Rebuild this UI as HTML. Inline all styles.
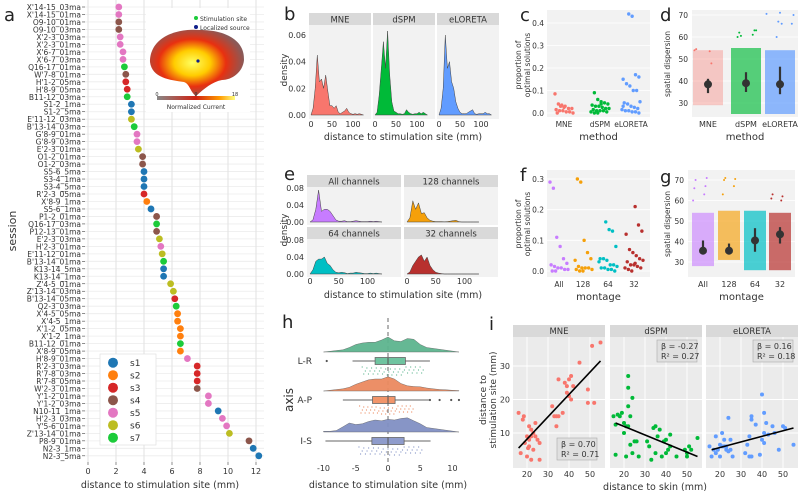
<!DOCTYPE html>
<html><head><meta charset="utf-8"><style>
html,body{margin:0;padding:0;background:#fff;}
svg{display:block;font-family:"DejaVu Sans","Liberation Sans",sans-serif;}
</style></head><body>
<svg id="fig" width="798" height="491" viewBox="0 0 798 491" xmlns="http://www.w3.org/2000/svg">
<defs>
<radialGradient id="brainGrad" cx="0.45" cy="0.5" r="0.55">
<stop offset="0" stop-color="#ffff60"/><stop offset="0.35" stop-color="#ffcc00"/><stop offset="0.65" stop-color="#e83010"/><stop offset="1" stop-color="#8a5a58"/>
</radialGradient>
<linearGradient id="cbar" x1="0" x2="1"><stop offset="0" stop-color="#888"/><stop offset="0.5" stop-color="#d02010"/><stop offset="0.8" stop-color="#ff9900"/><stop offset="1" stop-color="#ffff80"/></linearGradient>
</defs>
</svg>
<script>
// ---------- DATA ----------
const sessionLabels=["X'14-15_03ma","X'14-15_01ma","O9-10_01ma","O9-10_03ma","X'2-3_03ma","X'2-3_01ma","X'6-7_01ma","X'6-7_03ma","Q16-17_01ma","W'7-8_01ma","H'1-2_05ma","H'8-9_05ma","B11-12_03ma","S1-2_1ma","S1-2_5ma","E'11-12_03ma","B'13-14_03ma","G'8-9_01ma","G'8-9_03ma","E'2-3_01ma","O1-2_01ma","O1-2_03ma","S5-6_5ma","S3-4_1ma","S3-4_5ma","R'2-3_05ma","X'8-9_1ma","S5-6_1ma","P1-2_01ma","Q16-17_03ma","P12-13_01ma","E'2-3_03ma","H'2-3_01ma","E'11-12_01ma","B'13-14_01ma","K13-14_5ma","K13-14_1ma","Z'4-5_01ma","Z'13-14_03ma","B'13-14_05ma","Q2-3_03ma","X'4-5_05ma","X'4-5_1ma","X'1-2_05ma","X'1-2_1ma","B11-12_01ma","X'8-9_05ma","H'8-9_01ma","R'2-3_03ma","R'7-8_03ma","R'7-8_05ma","W'2-3_01ma","Y'1-2_01ma","Y'1-2_03ma","N10-11_1ma","H'2-3_03ma","Y'5-6_01ma","Z'13-14_01ma","P8-9_01ma","N2-3_1ma","N2-3_5ma"];
const sessionDist=[2.2,2.2,2.2,2.2,2.3,2.3,2.5,2.5,2.6,2.7,2.7,2.8,2.8,3.1,3.1,3.1,3.3,3.5,3.5,3.6,3.9,3.9,4.0,4.0,4.0,4.0,4.2,4.5,4.9,4.9,4.9,5.1,5.2,5.3,5.4,5.4,5.4,5.9,6.1,6.2,6.3,6.4,6.4,6.6,6.6,6.6,6.6,7.1,7.8,7.8,7.8,7.8,8.6,8.6,9.3,9.6,9.9,10.1,11.5,11.8,12.2];
const sessionSubj=[5,5,4,4,5,5,5,5,7,4,3,3,7,1,1,6,7,5,5,6,4,4,1,1,1,3,2,1,4,7,4,6,5,6,7,1,1,6,6,3,7,2,2,2,2,7,2,5,3,3,3,4,5,5,1,5,5,6,4,1,1];
const subjNames=["s1","s2","s3","s4","s5","s6","s7"];
const aTicks=[0,2,4,6,8,10,12];

const methods=["MNE","dSPM","eLORETA"];
const densMNE=[0,0.005,0.02,0.045,0.025,0.027,0.02,0.03,0.018,0.007,0.007,0.005,0.007,0.002,0.001,0.002,0.003,0.005,0.002,0.001,0.0005,0.001,0.0005,0.001,0.0005,0];
const densDSPM=[0,0.002,0.015,0.035,0.055,0.035,0.063,0.03,0.01,0.003,0.002,0.001,0.001,0.0005,0.001,0.004,0.002,0.001,0.0005,0.001,0.001,0.002,0.001,0.002,0.001,0];
const densELOR=[0,0.005,0.02,0.06,0.035,0.04,0.025,0.02,0.01,0.005,0.002,0.001,0.001,0.001,0.002,0.003,0.004,0.001,0.0005,0.001,0.001,0.001,0.002,0.001,0.001,0];
const densBinStep=5;
const bYTicks=[0,0.02,0.04,0.06];
const distXTicks=[0,50,100];

const montages=["All channels","128 channels","64 channels","32 channels"];
const densAll=[0,0.005,0.03,0.075,0.025,0.03,0.03,0.025,0.015,0.005,0.002,0.002,0.003,0.001,0.001,0.002,0.003,0.002,0.001,0.001,0.001,0.002,0.001,0.002,0.001,0];
const dens128=[0,0.01,0.05,0.03,0.045,0.02,0.022,0.01,0.004,0.002,0.001,0.001,0.001,0.0005,0.001,0.002,0.003,0.004,0.001,0,0,0,0,0,0,0];
const dens64=[0,0.01,0.03,0.035,0.035,0.04,0.025,0.02,0.01,0.004,0.003,0.004,0.003,0.001,0.002,0.002,0.004,0.003,0.002,0.001,0.001,0.002,0.001,0.002,0.001,0];
const dens32=[0,0.005,0.02,0.03,0.04,0.045,0.03,0.04,0.02,0.01,0.004,0.002,0.001,0,0,0,0,0,0,0,0,0,0,0,0,0];
const eYTicks=[0,0.04,0.08];

const propMNE=[0.085,0.04,0.035,0.03,0.02,0.02,0.015,0.01,0.01,0.005,0.005,0,0.0,0.03,0.025];
const propDSPM=[0.09,0.06,0.05,0.045,0.04,0.035,0.03,0.03,0.025,0.02,0.02,0.015,0.01,0.01,0.01,0.005,0.005,0,0,0.04];
const propELOR=[0.44,0.43,0.17,0.16,0.15,0.13,0.12,0.1,0.1,0.05,0.045,0.04,0.03,0.025,0.02,0.015,0.01,0.01,0.005,0.005,0,0.03];
const cYTicks=[0,0.1,0.2,0.3,0.4];

const montShort=["All","128","64","32"];
const propAll=[0.29,0.27,0.11,0.08,0.04,0.025,0.02,0.015,0.01,0.01,0.005,0.005,0,0];
const prop128=[0.3,0.29,0.1,0.06,0.04,0.035,0.015,0.01,0.01,0.01,0.005,0.005,0,0];
const prop64=[0.16,0.135,0.13,0.08,0.04,0.04,0.035,0.02,0.02,0.015,0.01,0.01,0.005,0.005,0,0.03];
const prop32=[0.21,0.15,0.13,0.12,0.07,0.06,0.05,0.04,0.035,0.03,0.02,0.02,0.015,0.01,0.01,0.005,0,0.025];
const fYTicks=[0,0.1,0.2,0.3];

const dispYTicks=[30,40,50,60,70];
const dMin=[29,25,25], dMax=[54,55,54], dMean=[38.5,39,38.5], dLo=[34.5,35,34], dHi=[41,44,46.5];
const dOutMNE=[54,53.5,54.5,48], dOutDSPM=[60,61,62,63,60.5,63], dOutELOR=[60,66,67,70,71,70.5,66];
const gMin=[28,31,26,26], gMax=[54,55,55,54], gMean=[35.5,35.5,40.5,43.5], gLo=[34,34,35,39], gHi=[40.5,39,46.5,47];
const gOutAll=[60,63,66,67,70,71], gOut128=[63,67,70,70.5,71], gOut64=[], gOut32=[60,61,62,63];

const axesNames=["L-R","A-P","I-S"];
const ridgeX=[-10,-9,-8,-7,-6,-5,-4,-3,-2,-1,0,1,2,3,4,5,6,7,8,9,10,11];
const ridgeLR=[0,0.05,0.1,0.15,0.3,0.5,0.6,0.65,0.65,0.8,1.0,0.75,0.7,0.9,0.85,0.5,0.3,0,0,0,0,0];
const ridgeAP=[0,0,0,0.15,0.25,0.45,0.6,0.75,0.8,0.8,0.95,0.8,0.5,0.35,0.3,0.28,0.2,0.15,0.1,0.08,0.05,0.03];
const ridgeIS=[0.05,0.05,0.1,0.35,0.6,0.5,0.55,0.7,0.8,0.75,0.85,0.8,0.9,0.95,0.75,0.55,0.3,0,0,0,0,0];
const boxQ1=[-2,-2.4,-2.5], boxMed=[0,0,0], boxQ3=[2.7,1.1,2.5], whLo=[-5.5,-7,-9.7], whHi=[6.5,6.5,6.6];
const outLR=[-9.5], outAP=[6.5,8,9.8,11], outIS=[];
const hXTicks=[-10,-5,0,5,10];

const skinMNE=[16,18,18.5,17,19,20,20,20.5,21,21,21,22,22,22,23,23,24,24,25,26,26,32,33,34,34,35,35,37,38,39,39,40,40,41,41,42,45,49,49,51,52,55];
const stimMNE=[16,14,15,4,7,9,3,5.5,6,8,12,11,9,2,10,5,9,13,8,2,7,18,15,15,12,26,15,16,25,24,22,21,26,27,20,24,31,23,19,36,19,37];
const skinDSPM=[15,16,16,17,18,19,20,20,21,21,22,22,22,22,23,23,24,24,25,26,27,31,32,33,34,35,35,36,37,38,39,40,40,41,42,42,45,49,50,50,51,52,55];
const stimDSPM=[15,12.5,3.5,15.5,15,16,13,10,12,3,12,18,27,23.5,6.5,15,20.5,4,7.5,7.5,3,7.5,6,2,11.5,12,4,9,11,3,7.5,4,8,5,9.5,6,3,5,3,4,6,5,8.5];
const skinELOR=[15,16,17,18,18,19,20,20,21,21,22,22,23,23,24,24,25,25,26,32,33,34,34,35,35,35,37,39,40,40,41,41,41,42,43,45,46,48,50,51,55];
const stimELOR=[6,3,5,4,9,5,6.5,3,6,10,6,8,5,6,14.5,4.5,8,5,3,4,6.5,9,3,15,14,3,12.5,3.5,21.5,8,7,16,10,13,9.5,12,10,5,12,11.5,6.5];
const betaVals=["0.70","-0.27","0.16"], r2Vals=["0.71","0.27","0.18"];
const fitStart=[5.5,13,5], fitEnd=[31.5,3,11.5];
const iYTicks=[10,20,30], iXTicks=[20,30,40,50];

// ---------- HELPERS ----------
const NS="http://www.w3.org/2000/svg";
const svg=document.getElementById('fig');
function mk(tag,attrs,name,parent){
  const el=document.createElementNS(NS,tag);
  for(const k in attrs) el.setAttribute(k,attrs[k]);
  
  
  (parent||svg).appendChild(el);
  return el;
}
function txt(x,y,s,size,anchor,name,extra){
  const a={x:x,y:y,'font-size':size,'text-anchor':anchor||'start',fill:'#333'};
  if(extra) for(const k in extra) a[k]=extra[k];
  const t=mk('text',a,name);
  t.textContent=s; return t;
}
function jit(i,w){ return (((i*37)%17)/16-0.5)*w; } // positional jitter only
const subjColors=["#1f77b4","#ff7f0e","#d62728","#8c564b","#e377c2","#bcbd22","#1ccb3a"];
const methColors=["#f8766d","#00ba38","#619cff"];
const montColors=["#c77cff","#f5a00a","#00bfc4","#b8302e"];
const GGBG="#ebebeb", LBG="#f2f2f2";

// ---------- PANEL A ----------
(function(){
  const x=v=>88+v*14, y=i=>7+i*7.48;
  mk('rect',{x:84,y:0,width:180,height:462,fill:'#fff'},'panel-a-plot-area');
  sessionLabels.forEach((l,i)=>{
    mk('line',{x1:84,x2:264,y1:y(i),y2:y(i),stroke:'#ececec','stroke-width':0.8},'row-gridline');
    mk('line',{x1:82,x2:85,y1:y(i),y2:y(i),stroke:'#444','stroke-width':0.6},'row-tick');
    txt(81,y(i)+3,l,7.5,'end','session-label');
  });
  aTicks.forEach(v=>{
    mk('line',{x1:x(v),x2:x(v),y1:0,y2:462,stroke:'#e2e2e2','stroke-width':1},'a-x-gridline');
    mk('line',{x1:x(v),x2:x(v),y1:462,y2:465,stroke:'#444','stroke-width':0.6},'a-x-tick');
    txt(x(v),474,String(v),8,'middle','a-x-tick-label');
  });
  sessionDist.forEach((d,i)=>{
    mk('circle',{cx:x(d),cy:y(i),r:3.4,fill:subjColors[sessionSubj[i]-1]},'session-dot');
  });
  txt(160,488,'distance to stimulation site (mm)',9.5,'middle','a-x-axis-title');
  txt(16,231,'session',11,'middle','a-y-axis-title',{transform:'rotate(-90 16 231)'});
  txt(4,21,'a',18,'start','panel-a-letter',{fill:'#222'});
  mk('rect',{x:100,y:354,width:56,height:91,fill:'#fff',stroke:'#ddd','stroke-width':0.6},'subject-legend-box');
  subjNames.forEach((s,i)=>{
    mk('circle',{cx:113,cy:362.7+i*12.5,r:5,fill:subjColors[i]},'legend-entry-marker');
    txt(130,366+i*12.5,s,9,'start','legend-entry-label');
  });
  mk('rect',{x:146,y:8,width:104,height:104,fill:'#fff'},'inset-background');
  mk('path',{d:'M150,62 C150,38 175,28 200,30 C225,30 245,40 244,60 C243,72 232,80 222,80 C212,82 205,88 196,96 C190,92 190,84 184,82 C170,80 152,78 150,62 Z',fill:'url(#brainGrad)'},'brain-surface');
  mk('circle',{cx:198,cy:61,r:1.6,fill:'#10208a'},'localized-source-dot');
  mk('circle',{cx:196,cy:18,r:2,fill:'#1ccb3a'},'stimulation-site-legend-marker');
  txt(200,21,'Stimulation site',6,'start','stimulation-site-legend-label');
  mk('circle',{cx:196,cy:27,r:2,fill:'#10208a'},'localized-source-legend-marker');
  txt(200,30,'Localized source',6,'start','localized-source-legend-label');
  mk('rect',{x:157,y:96,width:78,height:4,fill:'url(#cbar)'},'colorbar');
  txt(157,96,'0',5,'middle','colorbar-tick-0');
  txt(196,96,'9',5,'middle','colorbar-tick-9');
  txt(235,96,'18',5,'middle','colorbar-tick-18');
  txt(196,109,'Normalized Current',6,'middle','colorbar-title');
})();

function densFacet(fx,fw,sy,py0,py1,label,vals,col,xs,ys,name){
  mk('rect',{x:fx,y:sy,width:fw,height:12,fill:'#d9d9d9'},'facet-strip');
  txt(fx+fw/2,sy+9.5,label,8.5,'middle','facet-strip-label');
  mk('rect',{x:fx,y:py0,width:fw,height:py1-py0,fill:LBG},'facet-plot-area');
  let d='M'+xs(0)+','+ys(0);
  vals.forEach((v,i)=>{d+=' L'+xs(i*densBinStep).toFixed(1)+','+ys(v).toFixed(1);});
  d+=' L'+xs((vals.length-1)*densBinStep)+','+ys(0)+' Z';
  mk('path',{d:d,fill:col,stroke:'#444','stroke-width':0.5},name);
}
// PANEL B
(function(){
  const fx=[309,373,437], dens=[densMNE,densDSPM,densELOR];
  const ys=v=>115-v*(80/0.06);
  methods.forEach((m,k)=>{
    const xs=v=>fx[k]+2+v*0.42;
    densFacet(fx[k],62,13,25,119,m,dens[k],methColors[k],xs,ys,'density-'+m.toLowerCase());
    distXTicks.forEach(v=>txt(xs(v),127,String(v),8,'middle','b-x-tick-label'));
  });
  bYTicks.forEach(v=>txt(306,ys(v)+3,v.toFixed(2),8,'end','b-y-tick-label'));
  txt(403,140,'distance to stimulation site (mm)',9.5,'middle','b-x-axis-title');
  txt(287,70,'density',9,'middle','b-y-axis-title',{transform:'rotate(-90 287 70)'});
  txt(284,20,'b',18,'start','panel-b-letter',{fill:'#222'});
})();
// PANEL E
(function(){
  const fx=[307,404,307,404], sy=[175,175,227,227], p0=[187,187,239,239], base=[222,222,274,274];
  const dens=[densAll,dens128,dens64,dens32];
  montages.forEach((m,k)=>{
    const xs=v=>fx[k]+3+v*0.575, ys=v=>base[k]-v*(34/0.08);
    densFacet(fx[k],94,sy[k],p0[k],base[k]+3,m,dens[k],montColors[k],xs,ys,'density-'+montShort[k]);
    if(k%2===0) eYTicks.forEach(v=>txt(304,ys(v)+3,v.toFixed(2),8,'end','e-y-tick-label'));
    if(k>=2) distXTicks.forEach(v=>txt(xs(v),284,String(v),8,'middle','e-x-tick-label'));
  });
  txt(403,298,'distance to stimulation site (mm)',9.5,'middle','e-x-axis-title');
  txt(287,230,'density',9,'middle','e-y-axis-title',{transform:'rotate(-90 287 230)'});
  txt(284,180,'e',18,'start','panel-e-letter',{fill:'#222'});
})();

function stripPanel(px0,py0,px1,py1,ys,ticks,tickFmt,groups,cats,cols,catX,letter,ly,xTitle,name){
  mk('rect',{x:px0,y:py0,width:px1-px0,height:py1-py0,fill:LBG},name+'-plot-area');
  ticks.forEach(v=>{
    mk('line',{x1:px0,x2:px1,y1:ys(v),y2:ys(v),stroke:'#fff','stroke-width':0.8},name+'-gridline');
    txt(px0-3,ys(v)+3,tickFmt(v),7.5,'end',name+'-y-tick-label');
  });
  groups.forEach((g,k)=>{
    g.forEach((v,i)=>mk('circle',{cx:catX[k]+jit(i+k,18),cy:ys(v),r:1.7,fill:cols[k]},name+'-point'));
    txt(catX[k],py1+10,cats[k],7.5,'middle',name+'-x-tick-label');
  });
  txt((px0+px1)/2,py1+23,xTitle,10,'middle',name+'-x-axis-title');
  txt(521,ly,'proportion of',7.5,'middle',name+'-y-title-1',{transform:'rotate(-90 521 '+ly+')'});
  txt(530,ly,'optimal solutions',7.5,'middle',name+'-y-title-2',{transform:'rotate(-90 530 '+ly+')'});
  txt(520,letter[1],letter[0],18,'start','panel-'+letter[0]+'-letter',{fill:'#222'});
}
stripPanel(547,10,650,117,v=>113-v*225,cYTicks,v=>v.toFixed(1),[propMNE,propDSPM,propELOR],methods,methColors,[564,600,631],['c',21],65,'method','c');
stripPanel(547,170,650,277,v=>271-v*(92/0.3),fYTicks,v=>v.toFixed(1),[propAll,prop128,prop64,prop32],montShort,montColors,[559,583,608,634],['f',181],224,'montage','f');

function dispPanel(px0,py0,px1,py1,ys,cats,cols,catX,half,mins,maxs,means,lo,hi,outs,ops,letter,ly,xTitle,name){
  mk('rect',{x:px0,y:py0,width:px1-px0,height:py1-py0,fill:LBG},name+'-plot-area');
  dispYTicks.forEach(v=>{
    mk('line',{x1:px0,x2:px1,y1:ys(v),y2:ys(v),stroke:'#fff','stroke-width':0.8},name+'-gridline');
    txt(px0-4,ys(v)+3,String(v),7.5,'end',name+'-y-tick-label');
  });
  cats.forEach((c,k)=>{
    mk('rect',{x:catX[k]-half,y:ys(maxs[k]),width:half*2,height:ys(mins[k])-ys(maxs[k]),fill:cols[k],opacity:ops[k]},name+'-point-cloud');
    outs[k].forEach((v,i)=>mk('circle',{cx:catX[k]+jit(i*3+k,half*1.8),cy:ys(v),r:1,fill:cols[k]},name+'-outlier'));
    mk('line',{x1:catX[k],x2:catX[k],y1:ys(lo[k]),y2:ys(hi[k]),stroke:'#333','stroke-width':2.2},name+'-error-bar');
    mk('circle',{cx:catX[k],cy:ys(means[k]),r:4,fill:'#333'},name+'-mean');
    txt(catX[k],py1+10,c,8,'middle',name+'-x-tick-label');
  });
  txt((px0+px1)/2,py1+23,xTitle,10,'middle',name+'-x-axis-title');
  txt(670,ly,'spatial dispersion',7.5,'middle',name+'-y-axis-title',{transform:'rotate(-90 670 '+ly+')'});
  txt(660,letter[1],letter[0],18,'start','panel-'+letter[0]+'-letter',{fill:'#222'});
}
dispPanel(692,10,798,117,v=>103-(v-30)*2.2,methods,methColors,[708,746,780],15,dMin,dMax,dMean,dLo,dHi,[dOutMNE,dOutDSPM,dOutELOR],[0.35,0.65,0.7],['d',21],64,'method','d');
dispPanel(688,170,795,277,v=>262-(v-30)*2.05,montShort,montColors,[703,729,755,780],11,gMin,gMax,gMean,gLo,gHi,[gOutAll,gOut128,gOut64,gOut32],[0.6,0.65,0.7,0.7],['g',183],224,'montage','g');

// ---------- PANEL H ----------
(function(){
  const x=v=>388+v*6.45, cy=[361,400,441];
  const ridges=[ridgeLR,ridgeAP,ridgeIS], outs=[outLR,outAP,outIS];
  const cols=["#5db58f","#ec8a5f","#8190c4"], fills=["#6fc4a0","#f2956a","#8f9ccc"];
  mk('line',{x1:x(0),x2:x(0),y1:318,y2:462,stroke:'#444','stroke-width':0.8,'stroke-dasharray':'4,3'},'zero-reference-line');
  axesNames.forEach((a,k)=>{
    const base=cy[k]-9;
    let d='M'+x(ridgeX[0])+','+base;
    ridgeX.forEach((v,i)=>{ if(ridges[k][i]>0||i===0) d+=' L'+x(v).toFixed(1)+','+(base-ridges[k][i]*15).toFixed(1); });
    d+=' L'+x(ridgeX[ridgeX.length-1])+','+base+' Z';
    mk('path',{d:d,fill:cols[k],stroke:'#555','stroke-width':0.4,opacity:0.95},'density-ridge-'+a);
    mk('line',{x1:x(whLo[k]),x2:x(whHi[k]),y1:cy[k],y2:cy[k],stroke:'#666','stroke-width':1},'whisker-'+a);
    mk('rect',{x:x(boxQ1[k]),y:cy[k]-3.5,width:x(boxQ3[k])-x(boxQ1[k]),height:7,fill:fills[k],stroke:'#666','stroke-width':0.8},'box-'+a);
    mk('line',{x1:x(boxMed[k]),x2:x(boxMed[k]),y1:cy[k]-3.5,y2:cy[k]+3.5,stroke:'#555','stroke-width':1},'median-'+a);
    outs[k].forEach(v=>mk('circle',{cx:x(v),cy:cy[k],r:1.1,fill:'#555'},'outlier-'+a));
    for(let i=0;i<40;i++){
      const v=boxQ1[k]-2+((i*13)%40)/40*(boxQ3[k]-boxQ1[k]+5);
      mk('circle',{cx:x(v),cy:cy[k]+6+((i*7)%9),r:0.6,fill:cols[k]},'raw-point-'+a);
    }
    txt(312,cy[k]+3,a,9,'end','h-y-tick-label');
  });
  hXTicks.forEach(v=>txt(x(v),471,String(v),8,'middle','h-x-tick-label'));
  txt(388,488,'distance to stimulation site (mm)',9.5,'middle','h-x-axis-title');
  txt(293,400,'axis',12,'middle','h-y-axis-title',{transform:'rotate(-90 293 400)'});
  txt(282,328,'h',18,'start','panel-h-letter',{fill:'#222'});
})();

// ---------- PANEL I ----------
(function(){
  const fx=[513,610,706], ys=v=>433-(v-10)*3.35;
  const sk=[skinMNE,skinDSPM,skinELOR], st=[stimMNE,stimDSPM,stimELOR];
  const boxX=[557,657,753], boxY=[438,340,340];
  methods.forEach((m,k)=>{
    const xs=v=>fx[k]+14+(v-20)*2.1;
    mk('rect',{x:fx[k],y:325,width:92,height:12,fill:'#d9d9d9'},'i-facet-strip');
    txt(fx[k]+46,334,m,8.5,'middle','i-facet-strip-label');
    mk('rect',{x:fx[k],y:337,width:92,height:131,fill:GGBG},'i-plot-area');
    iYTicks.forEach(v=>mk('line',{x1:fx[k],x2:fx[k]+92,y1:ys(v),y2:ys(v),stroke:'#fff','stroke-width':0.9},'i-gridline'));
    iXTicks.forEach(v=>{
      mk('line',{x1:xs(v),x2:xs(v),y1:337,y2:468,stroke:'#fff','stroke-width':0.9},'i-gridline');
      txt(xs(v),477,String(v),8,'middle','i-x-tick-label');
    });
    sk[k].forEach((s,i)=>mk('circle',{cx:xs(s),cy:ys(st[k][i]),r:2,fill:methColors[k]},'i-point-'+m));
    mk('line',{x1:xs(16),y1:ys(fitStart[k]),x2:xs(55),y2:ys(fitEnd[k]),stroke:'#000','stroke-width':1.6},'fit-line-'+m);
    mk('rect',{x:boxX[k],y:boxY[k],width:40,height:22,fill:'#e0e0e0',stroke:'#aaa','stroke-width':0.6},'stats-box-'+m);
    txt(boxX[k]+4,boxY[k]+9,'β  = '+betaVals[k],8,'start','beta-label-'+m);
    txt(boxX[k]+4,boxY[k]+19,'R² = '+r2Vals[k],8,'start','r2-label-'+m);
  });
  iYTicks.forEach(v=>txt(510,ys(v)+3,String(v),8,'end','i-y-tick-label'));
  txt(655,490,'distance to skin (mm)',9.5,'middle','i-x-axis-title');
  txt(486,400,'distance to',9,'middle','i-y-title-1',{transform:'rotate(-90 486 400)'});
  txt(496,400,'stimulation site (mm)',9,'middle','i-y-title-2',{transform:'rotate(-90 496 400)'});
  txt(489,330,'i',18,'start','panel-i-letter',{fill:'#222'});
})();
</script>
</body></html>
